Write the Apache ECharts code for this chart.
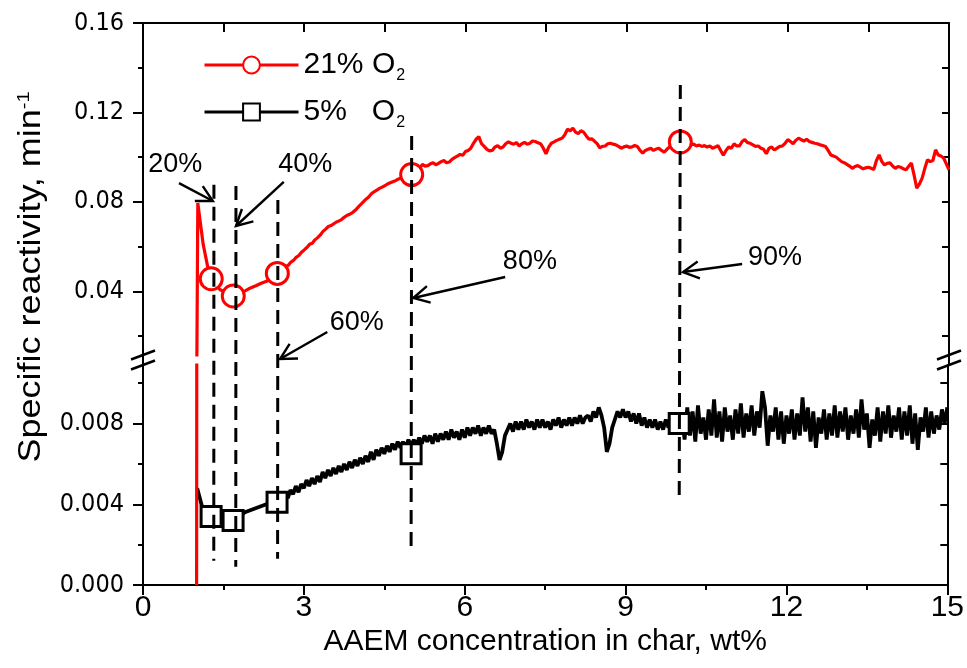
<!DOCTYPE html>
<html><head><meta charset="utf-8">
<script src="https://cdn.jsdelivr.net/npm/echarts@6/dist/echarts.min.js"></script>
<style>html,body{margin:0;padding:0;background:#fff}#c{width:967px;height:668px}</style>
</head><body><div id="c"></div>
<script>
// ---------------- data ----------------
const seriesNames = ['21% O2', '5%   O2'];
const xTickStep = 3;
const upperLabelTicks = [0.04, 0.08, 0.12, 0.16];
const upperMinorTicks = [0.02, 0.06, 0.10, 0.14];
const lowerLabelTicks = [0.000, 0.004, 0.008];
const lowerMinorTicks = [0.002, 0.006, 0.010];
const upperRange = [0.0115, 0.16];
const lowerRange = [0, 0.0109];

// 21% O2 specific reactivity (x: wt%, y: min^-1)
const red21Start = [[1.00,0.0],[1.02,0.0795],[1.06,0.0720],[1.12,0.0610],[1.20,0.0515],[1.27,0.0458],[1.35,0.0425],[1.45,0.0405],[1.55,0.0392],[1.68,0.0380],[1.80,0.0390],[1.90,0.0402],[2.00,0.0415],[2.10,0.0425],[2.20,0.0436],[2.30,0.0445],[2.40,0.0458],[2.50,0.0477]];
const red21Rise = [[2.55,0.0490],[2.60,0.0498],[2.65,0.0512],[2.70,0.0515],[2.75,0.0530],[2.80,0.0538],[2.85,0.0552],[2.90,0.0560],[2.95,0.0575],[3.00,0.0585],[3.05,0.0596],[3.10,0.0610],[3.15,0.0615],[3.20,0.0630],[3.25,0.0640],[3.30,0.0652],[3.35,0.0668],[3.40,0.0678],[3.45,0.0690],[3.50,0.0694],[3.55,0.0702],[3.60,0.0710],[3.65,0.0715],[3.70,0.0722],[3.75,0.0732],[3.80,0.0740],[3.85,0.0745],[3.90,0.0752],[3.95,0.0762],[4.00,0.0775],[4.05,0.0788],[4.10,0.0800],[4.15,0.0812],[4.20,0.0822],[4.25,0.0836],[4.30,0.0845],[4.35,0.0852],[4.40,0.0860],[4.45,0.0866],[4.50,0.0872],[4.55,0.0880],[4.60,0.0885],[4.65,0.0890],[4.70,0.0895],[4.75,0.0902],[4.80,0.0905],[4.85,0.0910],[4.90,0.0913],[4.95,0.0918],[5.00,0.0922]];
const red21Plateau = [[5.05,0.0935],[5.10,0.0945],[5.15,0.0950],[5.20,0.0968],[5.25,0.0960],[5.30,0.0962],[5.35,0.0970],[5.40,0.0975],[5.45,0.0966],[5.50,0.0972],[5.55,0.0980],[5.60,0.0985],[5.65,0.0975],[5.70,0.0978],[5.75,0.0990],[5.80,0.0998],[5.85,0.1005],[5.90,0.1012],[5.95,0.1008],[6.00,0.1025],[6.05,0.1030],[6.10,0.1040],[6.15,0.1062],[6.20,0.1080],[6.25,0.1092],[6.30,0.1060],[6.35,0.1048],[6.40,0.1035],[6.45,0.1028],[6.50,0.1030],[6.55,0.1045],[6.60,0.1052],[6.65,0.1040],[6.70,0.1045],[6.75,0.1060],[6.80,0.1068],[6.85,0.1062],[6.90,0.1058],[6.95,0.1065],[7.00,0.1050],[7.05,0.1060],[7.10,0.1066],[7.15,0.1058],[7.20,0.1062],[7.25,0.1072],[7.30,0.1070],[7.35,0.1064],[7.40,0.1060],[7.45,0.1040],[7.50,0.1015],[7.55,0.1045],[7.60,0.1062],[7.65,0.1068],[7.70,0.1075],[7.75,0.1080],[7.80,0.1085],[7.85,0.1100],[7.90,0.1125],[7.95,0.1118],[8.00,0.1130],[8.05,0.1112],[8.10,0.1105],[8.15,0.1118],[8.20,0.1112],[8.25,0.1095],[8.30,0.1080],[8.35,0.1082],[8.40,0.1072],[8.45,0.1060],[8.50,0.1042],[8.55,0.1048],[8.60,0.1050],[8.65,0.1060],[8.70,0.1062],[8.75,0.1058],[8.80,0.1055],[8.85,0.1048],[8.90,0.1040],[8.95,0.1046],[9.00,0.1050],[9.05,0.1044],[9.10,0.1046],[9.15,0.1052],[9.20,0.1048],[9.25,0.1030],[9.30,0.1018],[9.35,0.1030],[9.40,0.1035],[9.45,0.1040],[9.50,0.1030],[9.55,0.1036],[9.60,0.1040],[9.65,0.1030],[9.70,0.1022],[9.75,0.1035],[9.80,0.1045],[9.85,0.1050],[9.90,0.1055],[9.95,0.1062],[10.00,0.1068]];
const red21Tail = [[10.05,0.1066],[10.10,0.1060],[10.15,0.1062],[10.20,0.1055],[10.25,0.1058],[10.30,0.1050],[10.35,0.1054],[10.40,0.1048],[10.45,0.1052],[10.50,0.1045],[10.55,0.1050],[10.60,0.1040],[10.65,0.1045],[10.70,0.1052],[10.75,0.1030],[10.80,0.1008],[10.85,0.1030],[10.90,0.1045],[10.95,0.1040],[11.00,0.1060],[11.05,0.1050],[11.10,0.1050],[11.15,0.1070],[11.20,0.1078],[11.25,0.1065],[11.30,0.1062],[11.35,0.1055],[11.40,0.1048],[11.45,0.1050],[11.50,0.1040],[11.55,0.1035],[11.60,0.1015],[11.65,0.1040],[11.70,0.1045],[11.75,0.1032],[11.80,0.1040],[11.85,0.1048],[11.90,0.1050],[11.95,0.1062],[12.00,0.1078],[12.05,0.1070],[12.10,0.1060],[12.15,0.1075],[12.20,0.1085],[12.25,0.1078],[12.30,0.1072],[12.35,0.1080],[12.40,0.1070],[12.45,0.1066],[12.50,0.1062],[12.55,0.1060],[12.60,0.1055],[12.65,0.1052],[12.70,0.1048],[12.75,0.1030],[12.80,0.1010],[12.85,0.1005],[12.90,0.1000],[12.95,0.0990],[13.00,0.0980],[13.05,0.0975],[13.10,0.0968],[13.15,0.0960],[13.20,0.0950],[13.25,0.0958],[13.30,0.0962],[13.35,0.0955],[13.40,0.0948],[13.45,0.0952],[13.50,0.0955],[13.55,0.0950],[13.60,0.0945],[13.65,0.0985],[13.70,0.1010],[13.75,0.0980],[13.80,0.0965],[13.85,0.0972],[13.90,0.0975],[13.95,0.0960],[14.00,0.0950],[14.05,0.0958],[14.10,0.0955],[14.15,0.0948],[14.20,0.0943],[14.25,0.0960],[14.30,0.0973],[14.35,0.0920],[14.40,0.0861],[14.45,0.0880],[14.50,0.0906],[14.55,0.0950],[14.60,0.0988],[14.65,0.0980],[14.70,0.0985],[14.75,0.1033],[14.80,0.1010],[14.85,0.1005],[14.90,0.0996],[14.95,0.0970],[15.00,0.0943]];

// 5% O2 specific reactivity
const black5Start = [[1.01,0.0048],[1.05,0.0044],[1.10,0.0039],[1.18,0.0036],[1.27,0.0034],[1.40,0.0033],[1.50,0.0032],[1.60,0.0032],[1.68,0.0032],[1.80,0.0034],[1.90,0.0036],[2.00,0.0037],[2.10,0.0038],[2.20,0.0039],[2.30,0.0040],[2.40,0.0041],[2.45,0.0040]];
const black5Rise = [[2.50,0.0041],[2.55,0.0044],[2.60,0.0042],[2.65,0.0046],[2.70,0.0043],[2.75,0.0047],[2.80,0.0045],[2.85,0.0049],[2.90,0.0046],[2.95,0.0050],[3.00,0.0048],[3.05,0.0052],[3.10,0.0049],[3.15,0.0053],[3.20,0.0050],[3.25,0.0054],[3.30,0.0051],[3.35,0.0056],[3.40,0.0053],[3.45,0.0057],[3.50,0.0054],[3.55,0.0058],[3.60,0.0055],[3.65,0.0059],[3.70,0.0056],[3.75,0.0060],[3.80,0.0057],[3.85,0.0061],[3.90,0.0058],[3.95,0.0062],[4.00,0.0059],[4.05,0.0063],[4.10,0.0060],[4.15,0.0064],[4.20,0.0061],[4.25,0.0066],[4.30,0.0062],[4.35,0.0067],[4.40,0.0064],[4.45,0.0068],[4.50,0.0065],[4.55,0.0069],[4.60,0.0066],[4.65,0.0070],[4.70,0.0067],[4.75,0.0071],[4.80,0.0068],[4.85,0.0071],[4.90,0.0068],[4.95,0.0072]];
const black5Mid = [[5.00,0.0069],[5.05,0.0072],[5.10,0.0069],[5.15,0.0073],[5.20,0.0070],[5.25,0.0074],[5.30,0.0071],[5.35,0.0074],[5.40,0.0070],[5.45,0.0075],[5.50,0.0071],[5.55,0.0075],[5.60,0.0072],[5.65,0.0076],[5.70,0.0072],[5.75,0.0077],[5.80,0.0073],[5.85,0.0076],[5.90,0.0072],[5.95,0.0077],[6.00,0.0073],[6.05,0.0078],[6.10,0.0074],[6.15,0.0078],[6.20,0.0075],[6.25,0.0079],[6.30,0.0074],[6.35,0.0078],[6.40,0.0075],[6.45,0.0079],[6.50,0.0075],[6.55,0.0077],[6.60,0.0070],[6.65,0.0062],[6.70,0.0066],[6.75,0.0074],[6.80,0.0077],[6.85,0.0080],[6.90,0.0076],[6.95,0.0081],[7.00,0.0077],[7.05,0.0081],[7.10,0.0077],[7.15,0.0082],[7.20,0.0078],[7.25,0.0081],[7.30,0.0077],[7.35,0.0082],[7.40,0.0078],[7.45,0.0082],[7.50,0.0078],[7.55,0.0081],[7.60,0.0077],[7.65,0.0082],[7.70,0.0079],[7.75,0.0083],[7.80,0.0078],[7.85,0.0082],[7.90,0.0079],[7.95,0.0083],[8.00,0.0079],[8.05,0.0083],[8.10,0.0080],[8.15,0.0084],[8.20,0.0080],[8.25,0.0083],[8.30,0.0084],[8.35,0.0081],[8.40,0.0086],[8.45,0.0083],[8.50,0.0088],[8.55,0.0084],[8.60,0.0078],[8.65,0.0066],[8.70,0.0070],[8.75,0.0078],[8.80,0.0082],[8.85,0.0086],[8.90,0.0083],[8.95,0.0087],[9.00,0.0083],[9.05,0.0086],[9.10,0.0081],[9.15,0.0085],[9.20,0.0080],[9.25,0.0085],[9.30,0.0079],[9.35,0.0083],[9.40,0.0078],[9.45,0.0082],[9.50,0.0078],[9.55,0.0082],[9.60,0.0077],[9.65,0.0081],[9.70,0.0077],[9.75,0.0082],[9.80,0.0078],[9.85,0.0081],[9.90,0.0077],[9.95,0.0081],[10.00,0.0079]];
const black5Tail = [[10.05,0.0085],[10.10,0.0072],[10.15,0.0088],[10.20,0.0074],[10.25,0.0086],[10.30,0.0071],[10.35,0.0089],[10.40,0.0075],[10.45,0.0083],[10.50,0.0072],[10.55,0.0087],[10.60,0.0074],[10.65,0.0092],[10.70,0.0073],[10.75,0.0086],[10.80,0.0071],[10.85,0.0088],[10.90,0.0076],[10.95,0.0084],[11.00,0.0072],[11.05,0.0087],[11.10,0.0075],[11.15,0.0090],[11.20,0.0073],[11.25,0.0085],[11.30,0.0076],[11.35,0.0089],[11.40,0.0074],[11.45,0.0086],[11.50,0.0078],[11.55,0.0096],[11.60,0.0088],[11.65,0.0069],[11.70,0.0084],[11.75,0.0076],[11.80,0.0088],[11.85,0.0072],[11.90,0.0086],[11.95,0.0070],[12.00,0.0084],[12.05,0.0075],[12.10,0.0087],[12.15,0.0072],[12.20,0.0085],[12.25,0.0074],[12.30,0.0093],[12.35,0.0076],[12.40,0.0088],[12.45,0.0071],[12.50,0.0086],[12.55,0.0068],[12.60,0.0083],[12.65,0.0075],[12.70,0.0087],[12.75,0.0072],[12.80,0.0085],[12.85,0.0074],[12.90,0.0089],[12.95,0.0073],[13.00,0.0086],[13.05,0.0076],[13.10,0.0088],[13.15,0.0072],[13.20,0.0084],[13.25,0.0075],[13.30,0.0087],[13.35,0.0073],[13.40,0.0092],[13.45,0.0077],[13.50,0.0085],[13.55,0.0068],[13.60,0.0082],[13.65,0.0074],[13.70,0.0088],[13.75,0.0071],[13.80,0.0086],[13.85,0.0075],[13.90,0.0089],[13.95,0.0073],[14.00,0.0084],[14.05,0.0076],[14.10,0.0088],[14.15,0.0072],[14.20,0.0086],[14.25,0.0074],[14.30,0.0089],[14.35,0.0070],[14.40,0.0085],[14.45,0.0067],[14.50,0.0083],[14.55,0.0076],[14.60,0.0088],[14.65,0.0073],[14.70,0.0086],[14.75,0.0075],[14.80,0.0084],[14.85,0.0077],[14.90,0.0087],[14.95,0.0080],[15.00,0.0088]];

// markers at conversion levels
const red21Markers = [[1.27,0.0456],[1.68,0.0379],[2.50,0.0480],[5.00,0.0922],[10.00,0.1068]];
const black5Markers = [[1.27,0.0034],[1.68,0.0032],[2.50,0.0041],[5.00,0.0065],[10.00,0.0080]];

// conversion annotations
const pctLabels = ['20%', '40%', '60%', '80%', '90%'];
const pctX = [1.32, 1.73, 2.51, 5.00, 10.00];
const pctLineTop = [0.0876, 0.0871, 0.0808, 0.1095, 0.1323];      // upper-panel value
const pctLineBottom = [0.0012, 0.0009, 0.0013, 0.0019, 0.0041];   // lower-panel value
const pctArrowTail = [[0.67,0.0884],[2.62,0.0889],[3.43,0.0218],[6.74,0.0464],[11.15,0.0522]];
const pctArrowTip = [[1.30,0.0804],[1.73,0.0692],[2.55,0.0097],[5.03,0.0370],[10.05,0.0486]];
const pctLabelPos = [[0.60,0.0969],[3.02,0.0969],[3.98,0.0262],[7.20,0.0531],[11.76,0.0553]];

// ---------------- chart ----------------
const redData = [].concat(red21Start, red21Rise, red21Plateau, red21Tail);
const blackData = [].concat(black5Start, black5Rise, black5Mid, black5Tail);

const FN = '"Liberation Sans Narrow", "Arial Narrow", "Liberation Sans", Arial, sans-serif';
const FR = '"Liberation Sans", Arial, sans-serif';
const FY = '"DejaVu Sans Condensed", "DejaVu Sans", sans-serif';
const AX = {color: '#000', width: 2};
const G = [{left: 143, right: 18, top: 23, height: 332}, {left: 143, right: 18, top: 365, height: 220}];

function yMain(gi, range, labels, dec) {
  return {type: 'value', gridIndex: gi, position: 'left', min: range[0], max: range[1],
    axisLine: {show: true, onZero: false, lineStyle: AX},
    axisTick: {show: true, length: 10, lineStyle: AX, customValues: labels},
    axisLabel: {show: true, customValues: labels, formatter: v => Number(v).toFixed(dec),
      fontFamily: FY, fontSize: 25, color: '#000', margin: 19},
    splitLine: {show: false}};
}
function yMinor(gi, range, ticks) {
  return {type: 'value', gridIndex: gi, position: 'left', min: range[0], max: range[1],
    axisLine: {show: false}, axisTick: {show: true, length: 5, lineStyle: AX, customValues: ticks},
    axisLabel: {show: false, customValues: ticks}, splitLine: {show: false}};
}
function yRight(gi, range, ticks) {
  return {type: 'value', gridIndex: gi, position: 'right', min: range[0], max: range[1],
    axisLine: {show: true, onZero: false, lineStyle: AX},
    axisTick: {show: true, inside: true, length: 7, lineStyle: AX, customValues: ticks},
    axisLabel: {show: false, customValues: ticks}, splitLine: {show: false}};
}

const lineCommon = {type: 'line', showSymbol: false, clip: true, animation: false, emphasis: {disabled: true}};
const option = {
  animation: false,
  grid: G,
  legend: {
    data: seriesNames, orient: 'vertical', left: 198, top: 45, itemWidth: 94, itemHeight: 21, itemGap: 13,
    selectedMode: false,
    lineStyle: {width: 3},
    formatter: n => n.replace('O2', 'O{s|2}'),
    textStyle: {fontFamily: FN, fontSize: 30, color: '#000',
      rich: {s: {fontFamily: FN, fontSize: 16, color: '#000', padding: [22, 0, 0, 1]}}}
  },
  xAxis: [
    {type: 'value', gridIndex: 0, min: 0, max: 15, show: false},
    {type: 'value', gridIndex: 0, min: 0, max: 15, interval: 1.5, position: 'top',
      axisLine: {show: true, onZero: false, lineStyle: AX},
      axisTick: {show: true, inside: true, length: 9, lineStyle: AX},
      axisLabel: {show: false}, splitLine: {show: false}},
    {type: 'value', gridIndex: 1, min: 0, max: 15, interval: xTickStep, position: 'bottom',
      axisLine: {show: true, onZero: false, lineStyle: AX},
      axisTick: {show: true, length: 10, lineStyle: AX},
      minorTick: {show: true, splitNumber: 2, length: 5, lineStyle: AX},
      axisLabel: {fontFamily: FN, fontSize: 30, color: '#000', margin: 8},
      splitLine: {show: false}, minorSplitLine: {show: false},
      name: 'AAEM concentration in char, wt%', nameLocation: 'middle', nameGap: 42,
      nameTextStyle: {fontFamily: FR, fontSize: 30, color: '#000'}}
  ],
  yAxis: [
    yMain(0, upperRange, upperLabelTicks, 2),
    yMinor(0, upperRange, upperMinorTicks),
    yRight(0, upperRange, upperMinorTicks.concat(upperLabelTicks)),
    yMain(1, lowerRange, lowerLabelTicks, 3),
    yMinor(1, lowerRange, lowerMinorTicks),
    yRight(1, lowerRange, lowerMinorTicks.concat(lowerLabelTicks))
  ],
  series: [
    Object.assign({}, lineCommon, {name: seriesNames[0], xAxisIndex: 0, yAxisIndex: 0, data: redData, symbol: 'circle',
      lineStyle: {color: '#ff0000', width: 3.2}, itemStyle: {color: '#fff', borderColor: '#ff0000', borderWidth: 3}, z: 3}),
    Object.assign({}, lineCommon, {name: seriesNames[1], xAxisIndex: 2, yAxisIndex: 3, data: blackData, symbol: 'rect',
      lineStyle: {color: '#000', width: 3.8}, itemStyle: {color: '#fff', borderColor: '#000', borderWidth: 3}, z: 2}),
    Object.assign({}, lineCommon, {name: seriesNames[0], xAxisIndex: 2, yAxisIndex: 3, data: redData, symbol: 'circle',
      lineStyle: {color: '#ff0000', width: 3.2}, itemStyle: {color: '#fff', borderColor: '#ff0000', borderWidth: 3}, z: 3}),
    {type: 'scatter', name: 'm21', xAxisIndex: 0, yAxisIndex: 0, data: red21Markers, symbol: 'circle', symbolSize: 22,
      itemStyle: {color: '#fff', borderColor: '#ff0000', borderWidth: 3, opacity: 1}, z: 5, emphasis: {disabled: true}},
    {type: 'scatter', name: 'm5', xAxisIndex: 2, yAxisIndex: 3, data: black5Markers, symbol: 'rect', symbolSize: 20,
      itemStyle: {color: '#fff', borderColor: '#000', borderWidth: 3, opacity: 1}, z: 5, emphasis: {disabled: true}}
  ]
};

const chart = echarts.init(document.getElementById('c'), null, {renderer: 'canvas'});
chart.setOption(option);

const PU = (x, y) => chart.convertToPixel({xAxisIndex: 0, yAxisIndex: 0}, [x, y]);
const PL = (x, y) => chart.convertToPixel({xAxisIndex: 2, yAxisIndex: 3}, [x, y]);
const gfx = [];
// dashed conversion lines
pctX.forEach((x, i) => {
  const a = PU(x, pctLineTop[i]), b = PL(x, pctLineBottom[i]);
  gfx.push({type: 'line', silent: true, z: 20, shape: {x1: a[0], y1: a[1], x2: b[0], y2: b[1]},
    style: {stroke: '#000', lineWidth: 3, lineDash: [14, 8]}});
});
// arrows + labels
pctLabels.forEach((t, i) => {
  const a = PU(pctArrowTail[i][0], pctArrowTail[i][1]);
  const b = PU(pctArrowTip[i][0], pctArrowTip[i][1]);
  const dx = b[0] - a[0], dy = b[1] - a[1], L = Math.hypot(dx, dy), ux = dx / L, uy = dy / L;
  const ang = 28 * Math.PI / 180, len = 18;
  const arm = s => [b[0] - len * (ux * Math.cos(s * ang) - uy * Math.sin(s * ang)),
                    b[1] - len * (uy * Math.cos(s * ang) + ux * Math.sin(s * ang))];
  gfx.push({type: 'line', silent: true, z: 21, shape: {x1: a[0], y1: a[1], x2: b[0], y2: b[1]},
    style: {stroke: '#000', lineWidth: 2.4}});
  gfx.push({type: 'polyline', silent: true, z: 21, shape: {points: [arm(1), b, arm(-1)]},
    style: {stroke: '#000', lineWidth: 2.4, fill: null}});
  const p = PU(pctLabelPos[i][0], pctLabelPos[i][1]);
  gfx.push({type: 'text', silent: true, z: 21, x: p[0], y: p[1],
    style: {text: t, font: '27px ' + FN, fill: '#000', align: 'center', verticalAlign: 'middle'}});
});
// axis breaks
const bTop = PU(0, upperRange[0])[1], bBot = PL(0, lowerRange[1])[1];
[PU(0, upperRange[0])[0], PU(15, upperRange[0])[0]].forEach(x => {
  gfx.push({type: 'line', silent: true, z: 22, shape: {x1: x, y1: bTop, x2: x, y2: bBot}, style: {stroke: '#000', lineWidth: 2}});
  [bTop, bBot].forEach(y => {
    gfx.push({type: 'line', silent: true, z: 22, shape: {x1: x - 12, y1: y + 4.5, x2: x + 12, y2: y - 4.5},
      style: {stroke: '#000', lineWidth: 2.5}});
  });
});
// y-axis title
gfx.push({type: 'text', silent: true, z: 21, x: 32, y: 277, rotation: Math.PI / 2, scaleY: 0.85,
  style: {text: 'Specific reactivity, min{sup|-1}', font: '36px ' + FR, fill: '#000', align: 'center', verticalAlign: 'middle',
    rich: {sup: {fontFamily: FR, fontSize: 20, fill: '#000', padding: [0, 0, 18, 0]}}}});
chart.setOption({graphic: gfx});
</script>
</body></html>
